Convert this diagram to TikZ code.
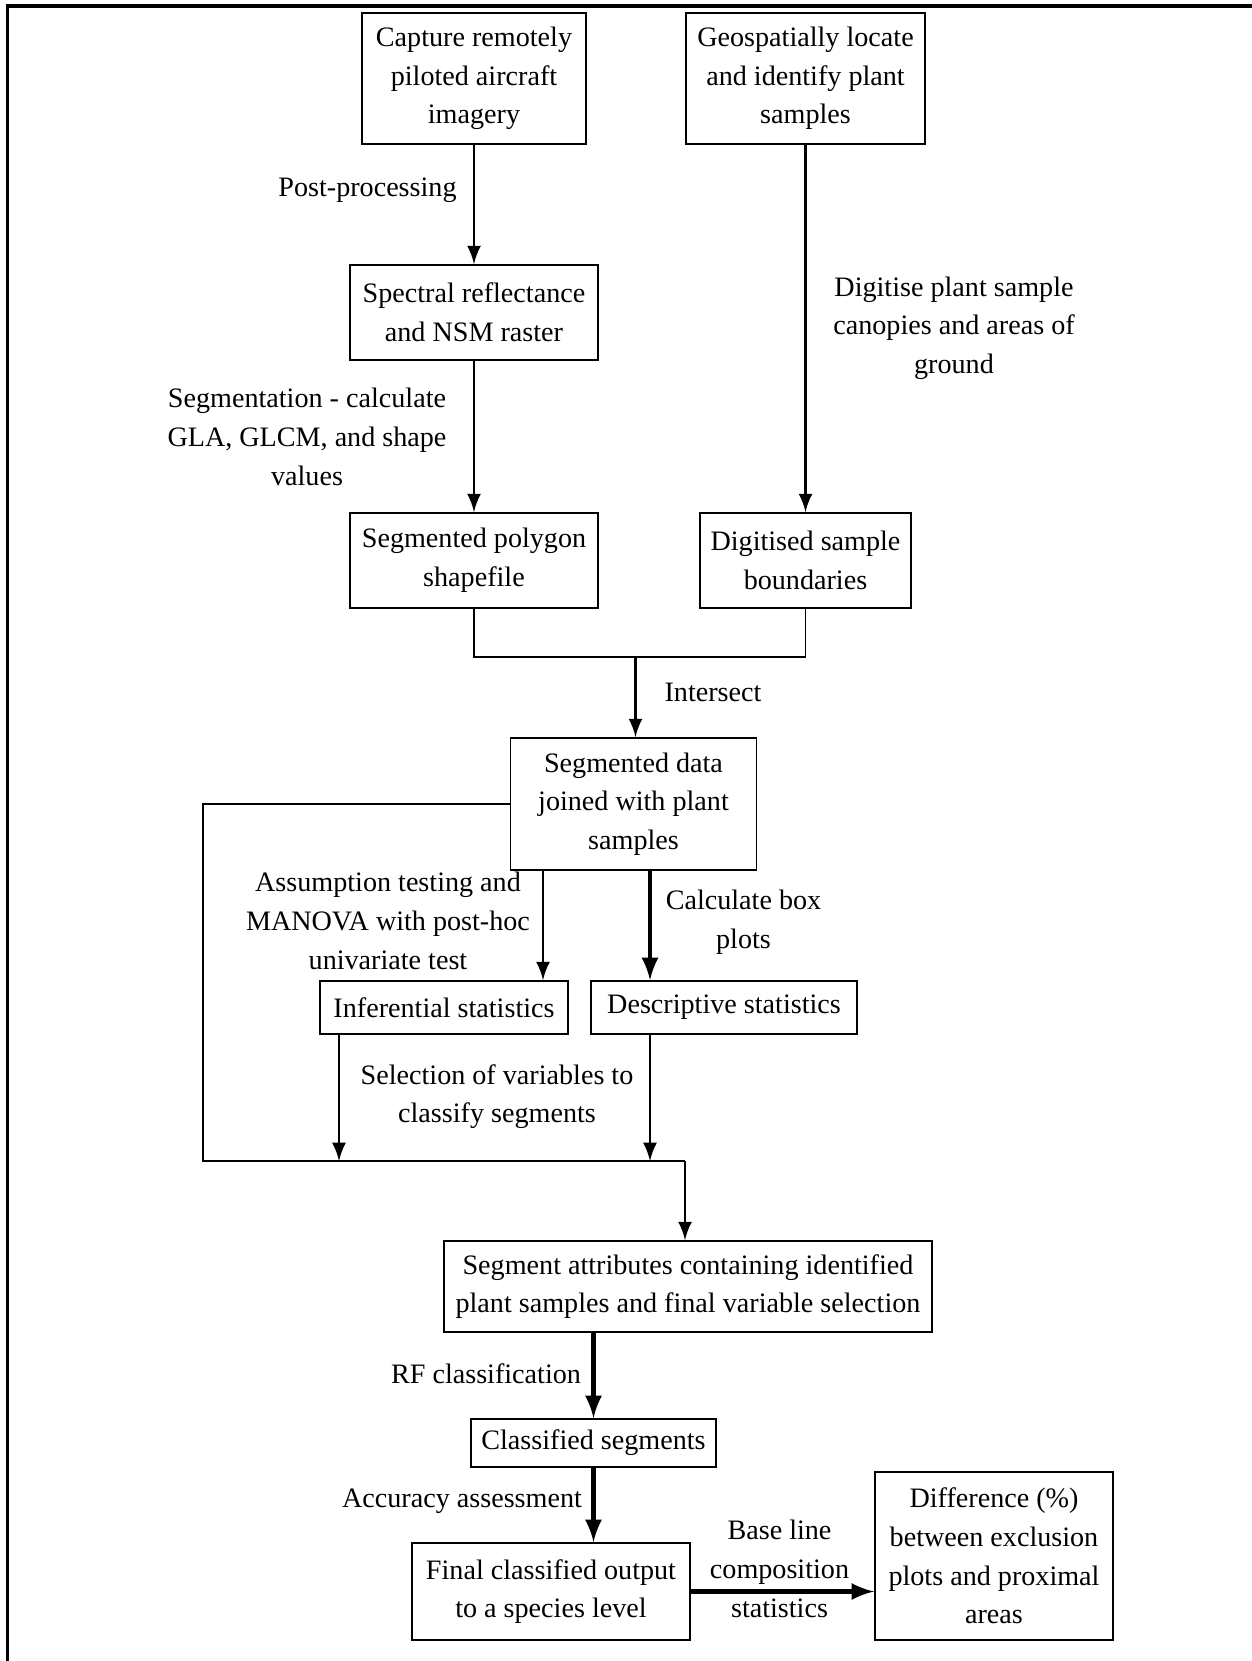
\documentclass[tikz,border=0pt]{standalone}
\usepackage{fontspec}
\setmainfont{Liberation Serif}
\usetikzlibrary{arrows}
\usetikzlibrary{calc,backgrounds}
\pgfdeclarelayer{edgelayer}
\pgfdeclarelayer{nodelayer}
\pgfsetlayers{background,edgelayer,nodelayer,main}
\tikzstyle{none}=[inner sep=0mm]
\tikzstyle{lbl}=[inner sep=0mm,align=center]
\tikzstyle{box}=[draw=black,line width=0.5pt,fill=white,align=center,inner sep=0pt]
\tikzstyle{wire}=[line width=0.5pt]
\tikzstyle{arr}=[->,>=latex,line width=0.8pt]
\tikzstyle{thickarr}=[->,>=latex,line width=1.2pt]

\begin{document}
\begin{tikzpicture}[x=0.01cm,y=-0.01cm,font={\fontsize{8}{11}\selectfont}]
	\useasboundingbox (0,0) rectangle (1252,1661);
	\draw [line width=0.9pt] (7.5,1661) -- (7.5,6) -- (1252,6);
	\begin{pgfonlayer}{nodelayer}
		\node [style=box,minimum width=2.24cm,minimum height=1.31cm] (cap) at (474, 78.5) {Capture remotely\\piloted aircraft\\imagery};
		\node [style=box,minimum width=2.39cm,minimum height=1.31cm] (geo) at (805.5, 78.5) {Geospatially locate\\and identify plant\\samples};
		\node [style=box,minimum width=2.48cm,minimum height=0.95cm] (spec) at (474, 312.5) {Spectral reflectance\\and NSM raster};
		\node [style=box,minimum width=2.48cm,minimum height=0.95cm] (segpoly) at (474, 560.5) {Segmented polygon\\shapefile};
		\node [style=box,minimum width=2.11cm,minimum height=0.95cm] (digit) at (805.5, 560.5) {Digitised sample\\boundaries};
		\node [style=box,minimum width=2.46cm,minimum height=1.32cm] (joined) at (633.5, 804) {Segmented data\\joined with plant\\samples};
		\node [style=box,minimum width=2.48cm,minimum height=0.53cm] (infer) at (444, 1007.5) {Inferential statistics};
		\node [style=box,minimum width=2.66cm,minimum height=0.53cm] (desc) at (724, 1007.5) {Descriptive statistics};
		\node [style=box,minimum width=4.88cm,minimum height=0.91cm] (attr) at (688, 1286.5) {Segment attributes containing identified\\plant samples and final variable selection};
		\node [style=box,minimum width=2.45cm,minimum height=0.48cm] (classified) at (593.5, 1443) {Classified segments};
		\node [style=box,minimum width=2.78cm,minimum height=0.97cm] (final) at (551, 1591.5) {Final classified output\\to a species level};
		\node [style=box,minimum width=2.38cm,minimum height=1.68cm] (diff) at (994, 1556) {Difference (\%)\\between exclusion\\plots and proximal\\areas};

		\node [style=lbl] (pp) at (367.5, 190.5) {Post-processing};
		\node [style=lbl] (digtxt) at (954, 328) {Digitise plant sample\\canopies and areas of\\ground};
		\node [style=lbl] (segtxt) at (307, 437) {Segmentation - calculate\\GLA, GLCM, and shape\\values};
		\node [style=lbl] (isect) at (713, 692) {Intersect};
		\node [style=lbl] (assum) at (388, 921) {Assumption testing and\\MANOVA with post-hoc\\univariate test};
		\node [style=lbl] (calc) at (743.5, 922) {Calculate box\\plots};
		\node [style=lbl] (selvar) at (497, 1096.5) {Selection of variables to\\classify segments};
		\node [style=lbl] (rf) at (486, 1374) {RF classification};
		\node [style=lbl] (acc) at (462, 1501) {Accuracy assessment};
		\node [style=lbl] (base) at (779.5, 1569) {Base line\\composition\\statistics};
	\end{pgfonlayer}
	\begin{pgfonlayer}{edgelayer}
		\coordinate (j1) at (635.5, 657);
		\coordinate (l2) at (203, 1161);
		\coordinate (j2) at (685, 1161);
		\coordinate (xa) at (543, 0);
		\coordinate (xb) at (650, 0);
		\coordinate (xc) at (339, 0);
		\draw [style=arr] (cap.south) to (spec.north);
		\draw [style=arr] (geo.south) to (digit.north);
		\draw [style=arr] (spec.south) to (segpoly.north);
		\draw [style=wire] (segpoly.south) |- (j1) -| (digit.south);
		\draw [style=arr] (j1) to (joined.north -| j1);
		\draw [style=wire] (joined.west) -| (l2) -- (j2);
		\draw [style=arr] (j2) to (attr.north -| j2);
		\draw [style=arr] (joined.south -| xa) to (infer.north -| xa);
		\draw [style=thickarr] (joined.south -| xb) to (desc.north -| xb);
		\draw [style=arr] (infer.south -| xc) to (l2 -| xc);
		\draw [style=arr] (desc.south -| xb) to (l2 -| xb);
		\draw [style=thickarr] (attr.south -| classified.south) to (classified.north);
		\draw [style=thickarr] (classified.south) to (final.north -| classified.south);
		\draw [style=thickarr] (final.east) to (diff.west |- final.east);
	\end{pgfonlayer}
\end{tikzpicture}
\end{document}
